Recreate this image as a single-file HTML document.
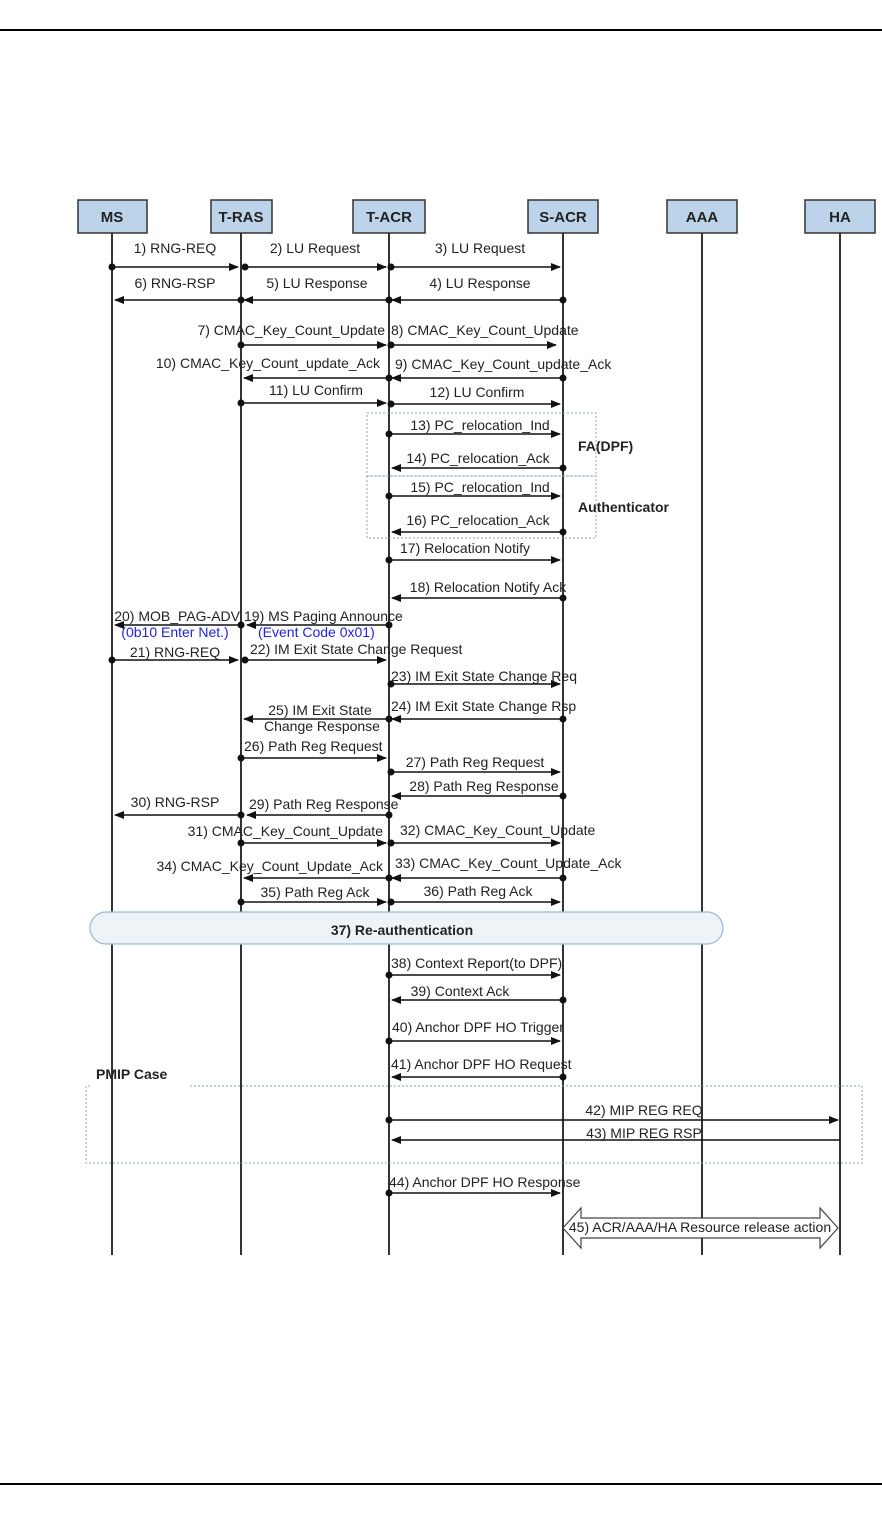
<!DOCTYPE html>
<html><head><meta charset="utf-8"><style>
html,body{margin:0;padding:0;background:#fff}
svg{display:block}
text{font-family:"Liberation Sans",Arial,sans-serif;font-size:14px;fill:#222}
.b{font-weight:bold}
.bl{fill:#2222dd}
</style></head><body>
<svg width="882" height="1514" viewBox="0 0 882 1514" xmlns="http://www.w3.org/2000/svg">
<defs>
<marker id="a" markerWidth="10" markerHeight="8" refX="9" refY="4" orient="auto" markerUnits="userSpaceOnUse"><path d="M0,0 L10,4 L0,8 z" fill="#111"/></marker>
<marker id="d" markerWidth="8" markerHeight="8" refX="4" refY="4" markerUnits="userSpaceOnUse"><circle cx="4" cy="4" r="3.5" fill="#111"/></marker>
</defs>
<line x1="0" y1="30" x2="882" y2="30" stroke="#000" stroke-width="2"/>
<line x1="0" y1="1484" x2="882" y2="1484" stroke="#000" stroke-width="2"/>
<g stroke="#333" stroke-width="2">
<line x1="112" y1="233" x2="112" y2="1255"/>
<line x1="241" y1="233" x2="241" y2="1255"/>
<line x1="389" y1="233" x2="389" y2="1255"/>
<line x1="563" y1="233" x2="563" y2="1255"/>
<line x1="702" y1="233" x2="702" y2="1255"/>
<line x1="840" y1="233" x2="840" y2="1255"/>
</g>
<g fill="#bdd3ea" stroke="#333" stroke-width="1.5">
<rect x="78" y="200" width="69" height="33"/>
<rect x="211" y="200" width="61" height="33"/>
<rect x="353" y="200" width="72" height="33"/>
<rect x="528" y="200" width="70" height="33"/>
<rect x="667" y="200" width="70" height="33"/>
<rect x="805" y="200" width="70" height="33"/>
</g>
<g text-anchor="middle">
<text x="112" y="222" class="b" style="font-size:15px">MS</text>
<text x="241" y="222" class="b" style="font-size:15px">T-RAS</text>
<text x="389" y="222" class="b" style="font-size:15px">T-ACR</text>
<text x="563" y="222" class="b" style="font-size:15px">S-ACR</text>
<text x="702" y="222" class="b" style="font-size:15px">AAA</text>
<text x="840" y="222" class="b" style="font-size:15px">HA</text>
</g>
<g fill="none" stroke="#8ab" stroke-width="1" stroke-dasharray="2,2">
<rect x="367" y="413" width="229" height="63"/>
<rect x="367" y="476" width="229" height="62"/>
<path d="M190,1086 H862 V1163 H86 V1086 H92"/>
</g>
<g stroke="#111" stroke-width="1.5" fill="none" marker-start="url(#d)" marker-end="url(#a)">
<line x1="112" y1="267" x2="238" y2="267"/>
<line x1="245" y1="267" x2="386" y2="267"/>
<line x1="391" y1="267" x2="560" y2="267"/>
<line x1="563" y1="300" x2="392" y2="300"/>
<line x1="389" y1="300" x2="244" y2="300"/>
<line x1="241" y1="300" x2="115" y2="300"/>
<line x1="241" y1="345" x2="386" y2="345"/>
<line x1="391" y1="345" x2="556" y2="345"/>
<line x1="563" y1="378" x2="392" y2="378"/>
<line x1="389" y1="378" x2="244" y2="378"/>
<line x1="241" y1="403" x2="386" y2="403"/>
<line x1="391" y1="404" x2="560" y2="404"/>
<line x1="389" y1="434" x2="560" y2="434"/>
<line x1="563" y1="468" x2="392" y2="468"/>
<line x1="389" y1="496" x2="560" y2="496"/>
<line x1="563" y1="532" x2="392" y2="532"/>
<line x1="389" y1="560" x2="560" y2="560"/>
<line x1="563" y1="598" x2="392" y2="598"/>
<line x1="389" y1="625" x2="247" y2="625"/>
<line x1="241" y1="625" x2="115" y2="625"/>
<line x1="112" y1="660" x2="238" y2="660"/>
<line x1="245" y1="660" x2="386" y2="660"/>
<line x1="391" y1="684" x2="560" y2="684"/>
<line x1="563" y1="719" x2="392" y2="719"/>
<line x1="389" y1="719" x2="244" y2="719"/>
<line x1="241" y1="758" x2="386" y2="758"/>
<line x1="391" y1="772" x2="560" y2="772"/>
<line x1="563" y1="796" x2="392" y2="796"/>
<line x1="389" y1="815" x2="247" y2="815"/>
<line x1="241" y1="815" x2="115" y2="815"/>
<line x1="241" y1="843" x2="386" y2="843"/>
<line x1="391" y1="843" x2="560" y2="843"/>
<line x1="563" y1="878" x2="392" y2="878"/>
<line x1="389" y1="878" x2="244" y2="878"/>
<line x1="241" y1="902" x2="386" y2="902"/>
<line x1="391" y1="902" x2="560" y2="902"/>
<line x1="389" y1="975" x2="560" y2="975"/>
<line x1="563" y1="1000" x2="392" y2="1000"/>
<line x1="389" y1="1041" x2="560" y2="1041"/>
<line x1="563" y1="1077" x2="392" y2="1077"/>
<line x1="389" y1="1120" x2="838" y2="1120"/>
<line x1="840" y1="1140" x2="392" y2="1140" marker-start="none"/>
<line x1="389" y1="1193" x2="560" y2="1193"/>
</g>
<rect x="90" y="912" width="633" height="32" rx="16" fill="#eef3f8" stroke="#9ab8d6" stroke-width="1.2"/>
<text x="402" y="935" text-anchor="middle" class="b">37) Re-authentication</text>
<path d="M563,1228 L581,1208 L581,1218 L820,1218 L820,1208 L838,1228 L820,1248 L820,1238 L581,1238 L581,1248 Z" fill="#fff" stroke="#444" stroke-width="1.2"/>
<text x="700" y="1232" text-anchor="middle">45) ACR/AAA/HA Resource release action</text>
<g text-anchor="middle">
<text x="175" y="253">1) RNG-REQ</text>
<text x="315" y="253">2) LU Request</text>
<text x="480" y="253">3) LU Request</text>
<text x="175" y="288">6) RNG-RSP</text>
<text x="317" y="288">5) LU Response</text>
<text x="480" y="288">4) LU Response</text>
<text x="316" y="395">11) LU Confirm</text>
<text x="477" y="397">12) LU Confirm</text>
<text x="480" y="430">13) PC_relocation_Ind</text>
<text x="478" y="463">14) PC_relocation_Ack</text>
<text x="480" y="492">15) PC_relocation_Ind</text>
<text x="478" y="525">16) PC_relocation_Ack</text>
<text x="465" y="553">17) Relocation Notify</text>
<text x="488" y="592">18) Relocation Notify Ack</text>
<text x="175" y="637" class="bl">(0b10 Enter Net.)</text>
<text x="175" y="657">21) RNG-REQ</text>
<text x="320" y="715">25) IM Exit State</text>
<text x="322" y="731">Change Response</text>
<text x="475" y="767">27) Path Reg Request</text>
<text x="484" y="791">28) Path Reg Response</text>
<text x="175" y="807">30) RNG-RSP</text>
<text x="315" y="897">35) Path Reg Ack</text>
<text x="478" y="896">36) Path Reg Ack</text>
<text x="460" y="996">39) Context Ack</text>
<text x="644" y="1115">42) MIP REG REQ</text>
<text x="644" y="1138">43) MIP REG RSP</text>
</g>
<g text-anchor="end">
<text x="385" y="335">7) CMAC_Key_Count_Update</text>
<text x="380" y="368">10) CMAC_Key_Count_update_Ack</text>
<text x="240" y="621">20) MOB_PAG-ADV</text>
<text x="383" y="836">31) CMAC_Key_Count_Update</text>
<text x="383" y="871">34) CMAC_Key_Count_Update_Ack</text>
</g>
<g>
<text x="391" y="335">8) CMAC_Key_Count_Update</text>
<text x="395" y="369">9) CMAC_Key_Count_update_Ack</text>
<text x="244" y="621">19) MS Paging Announce</text>
<text x="258" y="637" class="bl">(Event Code 0x01)</text>
<text x="250" y="654">22) IM Exit State Change Request</text>
<text x="391" y="681">23) IM Exit State Change Req</text>
<text x="391" y="711">24) IM Exit State Change Rsp</text>
<text x="244" y="751">26) Path Reg Request</text>
<text x="249" y="809">29) Path Reg Response</text>
<text x="400" y="835">32) CMAC_Key_Count_Update</text>
<text x="395" y="868">33) CMAC_Key_Count_Update_Ack</text>
<text x="391" y="968">38) Context Report(to DPF)</text>
<text x="392" y="1032">40) Anchor DPF HO Trigger</text>
<text x="391" y="1069">41) Anchor DPF HO Request</text>
<text x="389" y="1187">44) Anchor DPF HO Response</text>
<text x="578" y="451" class="b">FA(DPF)</text>
<text x="578" y="512" class="b">Authenticator</text>
<text x="96" y="1079" class="b" style="font-size:14px">PMIP Case</text>
</g>
</svg>
</body></html>
